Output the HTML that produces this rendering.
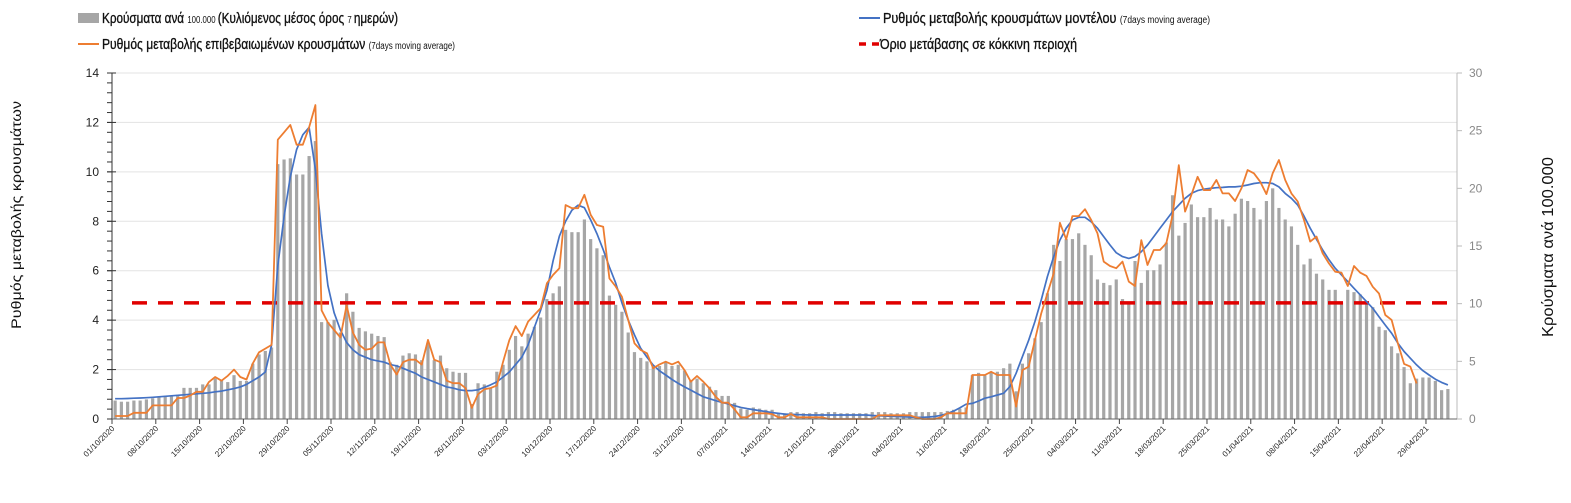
<!DOCTYPE html>
<html><head><meta charset="utf-8"><style>
html,body{margin:0;padding:0;background:#fff;}
svg{display:block;font-family:"Liberation Sans Narrow","Liberation Sans",sans-serif;}
.lg{stroke:#111;stroke-width:0.35;}
</style></head><body>
<svg id="chart" width="1571" height="503" viewBox="0 0 1571 503">
<g id="legend">
  <g>
    <rect x="78" y="13" width="21" height="10" fill="#a6a6a6"/>
    <text class="lg" x="102" y="23" font-size="15" fill="#111" textLength="296" lengthAdjust="spacingAndGlyphs">Κρούσματα ανά <tspan font-size="10" stroke-width="0">100.000 </tspan>(Κυλιόμενος μέσος όρος <tspan font-size="10" stroke-width="0">7 </tspan>ημερών)</text>
  </g>
  <g>
    <line x1="78" y1="44" x2="99" y2="44" stroke="#ed7d31" stroke-width="2"/>
    <text class="lg" x="102" y="49" font-size="15" fill="#111" textLength="353" lengthAdjust="spacingAndGlyphs">Ρυθμός μεταβολής επιβεβαιωμένων κρουσμάτων <tspan font-size="10" stroke-width="0">(7days moving average)</tspan></text>
  </g>
  <g>
    <line x1="859" y1="18" x2="880" y2="18" stroke="#4472c4" stroke-width="2"/>
    <text class="lg" x="883" y="23" font-size="15" fill="#111" textLength="327" lengthAdjust="spacingAndGlyphs">Ρυθμός μεταβολής κρουσμάτων μοντέλου <tspan font-size="10" stroke-width="0">(7days moving average)</tspan></text>
  </g>
  <g>
    <line x1="859" y1="44" x2="866" y2="44" stroke="#e00000" stroke-width="3.5"/>
    <line x1="872" y1="44" x2="879" y2="44" stroke="#e00000" stroke-width="3.5"/>
    <text class="lg" x="880" y="49" font-size="15" fill="#111" textLength="197" lengthAdjust="spacingAndGlyphs">Όριο μετάβασης σε κόκκινη περιοχή</text>
  </g>
</g>
<text transform="translate(21,215) rotate(-90)" text-anchor="middle" font-size="14" fill="#111" textLength="228" lengthAdjust="spacingAndGlyphs">Ρυθμός μεταβολής κρουσμάτων</text>
<text transform="translate(1553,247) rotate(-90)" text-anchor="middle" font-size="16" fill="#111" textLength="180" lengthAdjust="spacingAndGlyphs">Κρούσματα ανά 100.000</text>
<g id="grid"></g><g id="bars"></g><g id="lines"></g><g id="axes"></g>
</svg>
<script>
const leftTicks=[0,2,4,6,8,10,12,14];
const rightTicks=[0,5,10,15,20,25,30];
const xTickLabels=["01/10/2020","08/10/2020","15/10/2020","22/10/2020","29/10/2020","05/11/2020","12/11/2020","19/11/2020","26/11/2020","03/12/2020","10/12/2020","17/12/2020","24/12/2020","31/12/2020","07/01/2021","14/01/2021","21/01/2021","28/01/2021","04/02/2021","11/02/2021","18/02/2021","25/02/2021","04/03/2021","11/03/2021","18/03/2021","25/03/2021","01/04/2021","08/04/2021","15/04/2021","22/04/2021","29/04/2021"];
const redThreshold=4.7;
const casesPer100k=[1.6,1.5,1.5,1.6,1.6,1.7,1.8,1.9,2.0,2.0,2.1,2.7,2.7,2.7,3.0,3.0,3.5,3.4,3.2,3.8,3.3,
3.3,4.8,5.6,5.9,6.2,
22.1,22.5,22.6,21.2,21.2,22.8,24.1,
8.4,8.4,8.6,7.5,10.9,9.3,7.9,7.6,7.4,7.2,7.1,4.9,4.7,5.5,5.7,5.6,5.1,6.6,5.1,5.5,4.4,4.1,4.0,4.0,1.3,3.1,
3.0,2.7,4.1,4.7,6.0,7.2,6.3,7.4,8.0,8.8,10.4,10.9,11.5,16.4,16.2,16.2,17.3,15.6,14.8,14.2,10.7,9.9,9.3,7.5,5.8,5.3,5.0,4.5,4.6,4.9,4.6,4.7,4.2,3.3,3.5,3.1,2.8,2.5,2.0,2.0,1.4,0.9,0.8,1.0,0.9,0.8,0.8,0.5,
0.5,0.6,0.6,0.5,0.5,0.6,0.5,0.6,0.6,0.5,0.5,0.5,0.5,0.5,0.6,0.6,0.6,0.5,0.5,0.5,0.6,0.6,0.6,0.6,0.6,0.6,0.7,0.8,0.9,1.0,
3.8,4.0,3.8,4.0,4.1,4.4,4.8,2.4,4.8,5.7,7.0,8.4,10.9,15.1,13.7,15.6,15.6,16.1,15.1,14.2,12.1,11.8,11.6,12.1,10.4,10.1,13.7,11.8,12.9,12.9,13.4,15.3,19.4,15.9,17.0,18.6,17.5,17.5,18.3,17.3,17.3,16.7,17.8,19.1,18.9,18.3,17.3,18.9,20.0,18.3,17.3,16.7,15.1,13.4,13.9,12.6,12.1,11.2,11.2,10.1,11.2,11.0,10.8,10.1,9.7,8.0,7.7,6.3,5.7,4.5,3.1,3.5,3.6,3.6,3.3,2.5,2.6];
const confirmedRate=[0.12,0.12,0.12,0.25,0.25,0.25,0.55,0.55,0.55,0.55,0.85,0.85,0.95,1.1,1.1,1.5,1.7,1.55,1.75,2.0,1.7,1.6,2.25,2.7,2.85,3.0,
11.3,11.6,11.9,11.1,11.1,11.8,12.7,4.4,3.9,3.6,3.3,4.6,3.5,3.0,2.8,2.85,3.1,3.1,2.2,1.8,2.3,2.4,2.4,2.2,3.2,2.4,2.3,1.55,1.45,1.45,1.25,0.45,1.0,
1.2,1.25,1.35,2.32,3.19,3.76,3.36,3.94,4.21,4.48,5.49,5.83,6.10,8.66,8.53,8.53,9.07,8.26,7.85,7.78,5.69,5.36,4.95,4.01,3.06,2.79,2.66,2.05,2.21,2.32,2.21,2.32,1.98,1.51,1.74,1.51,1.24,0.90,0.66,0.66,
0.39,0.07,0.07,0.23,0.23,0.23,0.2,0.07,0.07,0.2,0.07,0.07,0.07,0.07,0.07,0,0,0,0,0,0,0,0,0.15,0.15,0.15,0.15,0.15,0.15,0.07,0,0,0,0.07,0.23,0.23,0.23,0.23,
1.78,1.78,1.78,1.91,1.78,1.78,1.78,0.50,1.98,2.12,3.19,4.27,5.08,5.89,7.94,7.27,8.21,8.21,8.49,8.05,7.51,6.37,6.19,6.10,6.37,5.56,5.38,7.24,6.23,6.84,6.84,7.11,8.25,10.27,8.39,9.06,9.80,9.26,9.26,9.67,9.13,9.13,8.82,9.33,10.07,9.94,9.60,9.10,9.94,10.48,9.67,9.13,8.80,8.05,7.18,7.38,6.70,6.29,5.96,5.92,5.38,6.19,5.92,5.79,5.35,5.08,4.21,4.01,3.07,2.23,2.12,1.44];
const modelRate=[0.82,0.82,0.83,0.84,0.85,0.86,0.88,0.9,0.92,0.94,0.96,0.98,1.0,1.02,1.04,1.06,1.1,1.13,1.18,1.23,1.3,1.4,1.55,1.7,1.9,3.0,
6.2,8.2,9.8,10.9,11.5,11.8,10.1,7.5,5.4,4.3,
3.6,3.1,2.8,2.6,2.5,2.4,2.35,2.3,2.2,2.15,2.05,1.95,1.85,1.7,1.6,1.5,1.4,1.3,1.25,1.18,1.15,1.15,1.18,
1.28,1.38,1.5,1.7,1.9,2.2,2.5,3.0,3.7,4.4,5.2,6.4,7.4,8.0,8.45,8.65,8.55,8.05,7.5,6.85,6.15,5.5,4.7,4.0,3.4,2.86,2.5,2.18,1.95,1.78,1.6,1.44,1.3,1.17,1.03,0.9,0.82,0.74,0.67,0.61,0.54,0.47,0.42,0.38,0.34,0.3,0.26,0.23,
0.2,0.19,0.18,0.17,0.16,0.16,0.16,0.16,0.16,0.16,0.16,0.16,0.16,0.16,0.14,0.13,0.12,0.11,0.1,0.09,0.08,0.07,0.07,0.08,0.1,0.15,0.22,0.32,0.45,0.6,
0.63,0.73,0.84,0.9,0.97,1.04,1.31,1.85,2.52,3.19,3.94,4.81,5.76,6.57,7.24,7.72,8.05,8.16,8.16,7.98,7.72,7.38,7.04,6.73,6.57,6.50,6.57,6.77,7.04,7.38,7.72,8.05,8.39,8.66,8.93,9.13,9.24,9.30,9.33,9.36,9.37,9.39,9.39,9.42,9.47,9.53,9.56,9.56,9.53,9.39,9.13,8.93,8.66,8.21,7.72,7.27,6.84,6.44,6.10,5.83,5.56,5.29,5.02,4.75,4.48,4.14,3.80,3.47,3.07,2.73,2.46,2.19,1.96,1.78,1.61,1.48,1.38];

const NS="http://www.w3.org/2000/svg";
const X0=112,X1=1457,DAY=6.257,Y0=419,YT=73;
const xDay=d=>X0+d*DAY;
const yL=v=>Y0-(v/14)*(Y0-YT);
const yR=v=>Y0-(v/30)*(Y0-YT);
function mk(tag,attrs,parent){const e=document.createElementNS(NS,tag);for(const k in attrs)e.setAttribute(k,attrs[k]);parent.appendChild(e);return e;}
const grid=document.getElementById('grid'),bars=document.getElementById('bars'),lines=document.getElementById('lines'),axes=document.getElementById('axes');

leftTicks.forEach(v=>{
  if(v>0){const g=mk('line',{x1:X0,x2:X1,y1:yL(v),y2:yL(v),stroke:'#e3e3e3','stroke-width':1},grid);
  
  }
  const t=mk('text',{x:X0-13,y:yL(v)+4,'text-anchor':'end','font-size':12,fill:'#222'},axes);
  t.textContent=v;
  
  
  mk('line',{x1:X0-5,x2:X0+4,y1:yL(v),y2:yL(v),stroke:'#333','stroke-width':1},axes);
});
for(let v=0;v<=14.001;v+=0.4){mk('line',{x1:X0-5,x2:X0,y1:yL(v),y2:yL(v),stroke:'#333','stroke-width':1},axes);}
rightTicks.forEach(v=>{
  const t=mk('text',{x:X1+12,y:yR(v)+4,'font-size':12,fill:'#888'},axes);
  t.textContent=v;
  
  
  mk('line',{x1:X1,x2:X1+5,y1:yR(v),y2:yR(v),stroke:'#bbb','stroke-width':1},axes);
});

casesPer100k.forEach((v,d)=>{
  const cx=xDay(d+0.5);
  const r=mk('rect',{x:cx-1.6,y:yR(v),width:3.2,height:Y0-yR(v),fill:'#a6a6a6'},bars);
  
  
});

const thr=mk('line',{x1:132,x2:X1,y1:yL(redThreshold),y2:yL(redThreshold),stroke:'#e00000','stroke-width':3.5,'stroke-dasharray':'15 11'},lines);



function path(arr){return arr.map((v,d)=>(d?'L':'M')+xDay(d+0.5).toFixed(1)+' '+yL(v).toFixed(1)).join(' ');}
const pm=mk('path',{d:path(modelRate),fill:'none',stroke:'#4472c4','stroke-width':1.7,'stroke-linejoin':'round'},lines);


const pc=mk('path',{d:path(confirmedRate),fill:'none',stroke:'#ed7d31','stroke-width':1.8,'stroke-linejoin':'round'},lines);



const la=mk('line',{x1:X0,x2:X0,y1:YT,y2:Y0,stroke:'#333','stroke-width':1},axes);


const ra=mk('line',{x1:X1,x2:X1,y1:YT,y2:Y0,stroke:'#bbb','stroke-width':1},axes);


const xa=mk('line',{x1:X0,x2:X1,y1:Y0,y2:Y0,stroke:'#666','stroke-width':1},axes);


xTickLabels.forEach((lab,i)=>{
  const x=xDay(i*7);
  mk('line',{x1:x,x2:x,y1:Y0,y2:Y0+5,stroke:'#444','stroke-width':1},axes);
  const t=mk('text',{x:0,y:0,'text-anchor':'end','font-size':8,fill:'#222',transform:`translate(${x+3},${Y0+10}) rotate(-45)`},axes);
  t.textContent=lab;
  
  
});
</script>
</body></html>
